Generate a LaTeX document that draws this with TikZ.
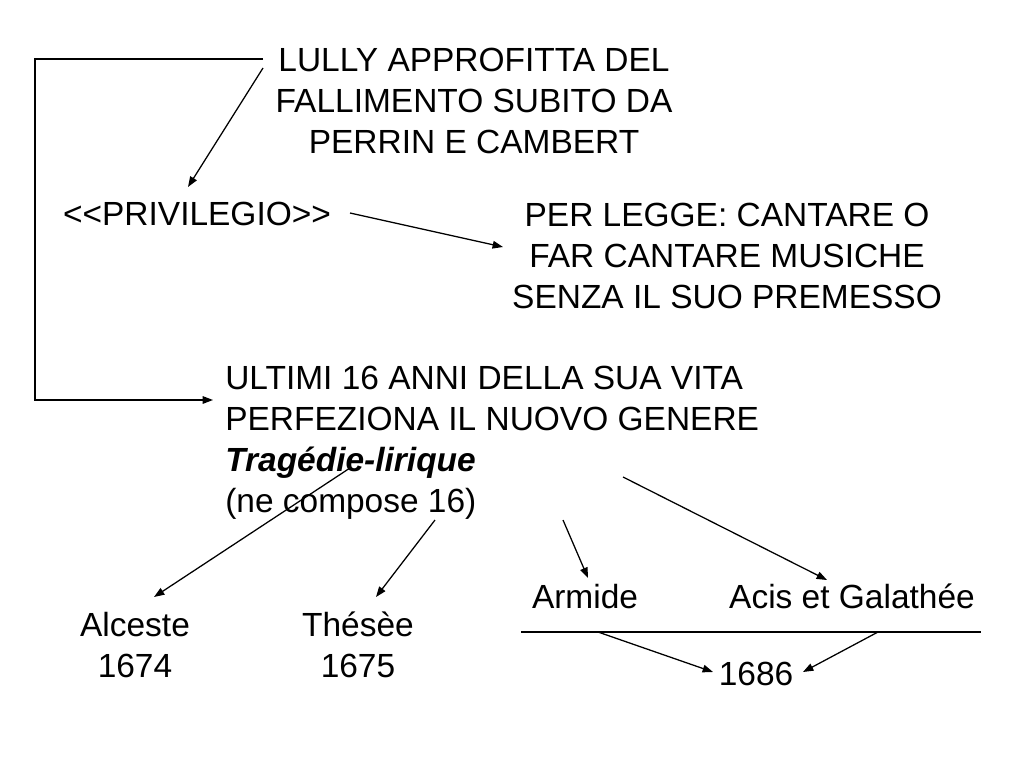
\documentclass[tikz,border=0pt]{standalone}
\usepackage{fontspec}
\setmainfont{Liberation Sans}[Ligatures=TeXOff]
\usetikzlibrary{arrows.meta,positioning}
\tikzset{
  sltext/.style ={inner sep=0pt, text=black, font=\fontsize{23.8}{29.2}\selectfont},
  slword/.style ={sltext, anchor=base},
  slblock/.style={sltext, align=center},
  sllist/.style ={sltext, align=left, anchor=west},
  slline/.style ={line width=0.9pt, black},
  slarrow/.style={slline, -{Triangle[length=2.6mm, width=1.9mm]}},
}

\begin{document}
\begin{tikzpicture}[x=0.025cm, y=-0.025cm]
  \useasboundingbox (0,0) rectangle (1024,768);
  % texts
  \node[slblock] (lully) at (474,101) {LULLY APPROFITTA DEL\\FALLIMENTO SUBITO DA\\PERRIN E CAMBERT};
  \node[slword] (privilegio) at (197,225) {<<PRIVILEGIO>>};
  \node[slblock] (legge) at (727,256) {PER LEGGE: CANTARE O\\FAR CANTARE MUSICHE\\SENZA IL SUO PREMESSO};
  \node[sllist] (ultimi) at (225,443) {ULTIMI 16 ANNI DELLA SUA VITA\\PERFEZIONA IL NUOVO GENERE\\\textbf{\textit{Tragédie-lirique}}\\(ne compose 16)};
  \node[slblock] (alceste) at (135,645) {Alceste\\1674};
  \node[slblock] (thesee) at (358,645) {Thésèe\\1675};
  \node[slword] (armide) at (585,608) {Armide};
  \node[slword] (acis) at (852,608) {Acis et Galathée};
  \node[slword] (anno) at (756,685) {1686};
  % free ends
  \coordinate (lullyOut) at (263,59);
  \coordinate (bracketLeft) at (35,59);
  \coordinate (ultimiIn) at (213,400);
  \coordinate (lullyDown) at (263,68);
  \coordinate (privIn) at (188,187);
  \coordinate (privOut) at (350,213);
  \coordinate (leggeIn) at (503,247);
  \coordinate (tragA) at (350,468);
  \coordinate (alcesteIn) at (154,597);
  \coordinate (tragB) at (435,520);
  \coordinate (theseeIn) at (376,597);
  \coordinate (tragC) at (563,520);
  \coordinate (armideIn) at (588,578);
  \coordinate (tragD) at (623,477);
  \coordinate (acisIn) at (827,580);
  \coordinate (rigaL) at (521,632);
  \coordinate (rigaR) at (981,632);
  \coordinate (armideOut) at (598,632);
  \coordinate (annoL) at (713,672);
  \coordinate (acisOut) at (878,632);
  \coordinate (annoR) at (803,672);
  % connectors
  \draw[slarrow] (lullyOut) -- (bracketLeft) |- (ultimiIn);
  \draw[slarrow] (lullyDown) -- (privIn);
  \draw[slarrow] (privOut) -- (leggeIn);
  \draw[slarrow] (tragA) -- (alcesteIn);
  \draw[slarrow] (tragB) -- (theseeIn);
  \draw[slarrow] (tragC) -- (armideIn);
  \draw[slarrow] (tragD) -- (acisIn);
  \draw[slline] (rigaL) -- (rigaR);
  \draw[slarrow] (armideOut) -- (annoL);
  \draw[slarrow] (acisOut) -- (annoR);
\end{tikzpicture}
\end{document}
